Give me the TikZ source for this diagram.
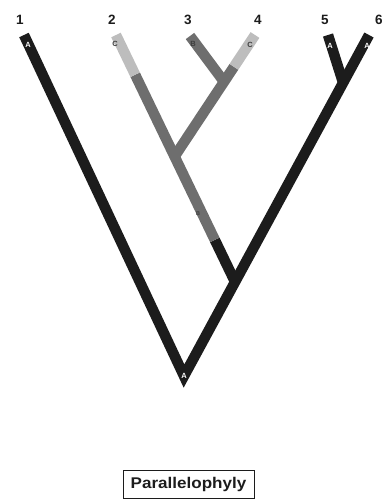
\documentclass[tikz,border=0pt]{standalone}
\usepackage{fontspec}
\setmainfont{Liberation Sans}
\usetikzlibrary{calc}
\definecolor{blk}{HTML}{1C1C1C}
\definecolor{gry}{HTML}{6E6E6E}
\definecolor{lgry}{HTML}{BDBDBD}
\tikzset{
  br/.style={line width=10.5pt, line cap=butt, miter limit=20},
  num/.style={font=\bfseries\fontsize{13.5}{13.5}\selectfont, text=blk, inner sep=0pt},
  tipw/.style={font=\bfseries\fontsize{7.5}{7.5}\selectfont, text=white, inner sep=0pt},
  tipd/.style={font=\bfseries\fontsize{7.5}{7.5}\selectfont, text=blk!85, inner sep=0pt},
  titlebox/.style={draw=blk, line width=1pt, minimum width=131pt, minimum height=28pt, inner sep=0pt, font=\bfseries\fontsize{15.5}{15.5}\selectfont, text=blk}
}
\begin{document}
\begin{tikzpicture}[x=1pt,y=-1pt]
\useasboundingbox (0,0) rectangle (384,499);
% tips and junctions
\coordinate (t1) at (24,35);
\coordinate (t2) at (116,35);
\coordinate (t3) at (190,36);
\coordinate (t4) at (255,35);
\coordinate (t5) at (328,35);
\coordinate (t6) at (369,35);
\coordinate (root) at (184,376);
\coordinate (J1) at ($(root)!0.276!(t6)$);
\coordinate (J5) at ($(root)!0.86!(t6)$);
\coordinate (S1) at ($(J1)!0.17!(t2)$);
\coordinate (S2) at ($(J1)!0.839!(t2)$);
\coordinate (J2) at ($(J1)!0.508!(t2)$);
\coordinate (L4) at ($(J2)!0.738!(t4)$);
\coordinate (J3) at ($(J2)!0.615!(t4)$);
% branches
\draw[br, blk] (t1) -- (root) -- (t6);
\draw[br, blk] (J5) -- (t5);
\draw[br, blk] (J1) -- (S1);
\draw[br, gry] (S1) -- (S2);
\draw[br, lgry] (S2) -- (t2);
\draw[br, gry] (J2) -- (L4);
\draw[br, lgry] (L4) -- (t4);
\draw[br, gry] (J3) -- (t3);
% numbers
\node[num] (n1) at (20,20) {1};
\node[num] (n2) at (112,20) {2};
\node[num] (n3) at (188,20) {3};
\node[num] (n4) at (258,20) {4};
\node[num] (n5) at (325,20) {5};
\node[num] (n6) at (379,20) {6};
% state letters
\node[tipw] (a1) at (28,45) {A};
\node[tipd] (c2) at (115,44) {C};
\node[tipd] (b3) at (193,44) {B};
\node[tipd] (c4) at (250,45) {C};
\node[tipw] (a5) at (330,46) {A};
\node[tipw] (a6) at (367,46) {A};
\node[tipw] (ar) at (184,376) {A};
\node[tipd, font=\bfseries\fontsize{5.5}{5.5}\selectfont] (bs) at (198,214) {B};
% title
\node[titlebox] (title) at (188.5,484) {\scalebox{1.1}[1]{Parallelophyly}};
\end{tikzpicture}
\end{document}
